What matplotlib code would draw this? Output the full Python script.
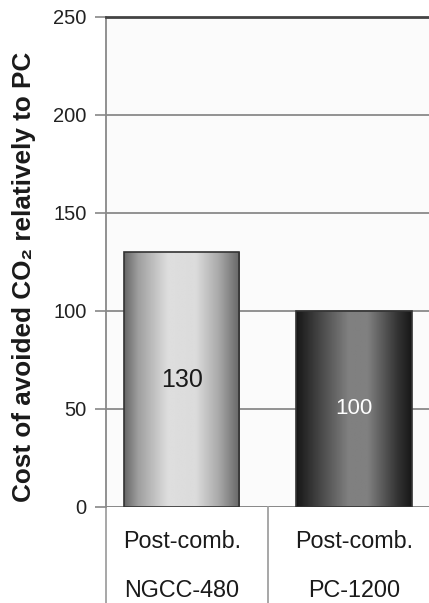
import numpy as np
import matplotlib
matplotlib.use("Agg")
import matplotlib.pyplot as plt

# Data
plants = ["NGCC-480", "PC-1200"]
capture = ["Post-comb.", "Post-comb."]
avoided_cost = [130, 100]
y_ticks = [0, 50, 100, 150, 200, 250]

FONT = ["Liberation Sans", "DejaVu Sans"]
plt.rcParams["font.family"] = FONT

fig = plt.figure(figsize=(4.29, 6.03), dpi=100)
fig.patch.set_facecolor("white")
ax = fig.add_axes([106 / 429, 1 - 507 / 603, 1 - 106 / 429, (507 - 17) / 603])
ax.set_facecolor("#fbfbfb")

x = np.arange(len(plants))
bars = ax.bar(x, avoided_cost, width=0.67, color="none",
              edgecolor="#333333", linewidth=1.2, zorder=3)

# Horizontal shading inside each bar (cylinder look)
profiles = [
    ([0, 0.12, 0.38, 0.62, 0.82, 1.0], [0.40, 0.62, 0.87, 0.86, 0.66, 0.40]),
    ([0, 0.10, 0.45, 0.62, 0.88, 1.0], [0.09, 0.18, 0.50, 0.50, 0.20, 0.09]),
]
for bar, (px, pv) in zip(bars, profiles):
    t = np.linspace(0, 1, 256)
    grad = np.interp(t, px, pv)[None, :]
    x0, w, h = bar.get_x(), bar.get_width(), bar.get_height()
    im = ax.imshow(grad, cmap="gray", vmin=0, vmax=1, aspect="auto",
                   extent=[x0, x0 + w, 0, h], zorder=2, interpolation="bilinear")
    im.set_clip_path(bar)

# Values written inside bars
label_colors = ["#1a1a1a", "white"]
label_sizes = [18, 16]
for xi, v, c, s in zip(x, avoided_cost, label_colors, label_sizes):
    ax.text(xi, v / 2, str(v), ha="center", va="center", color=c,
            fontsize=s, zorder=4)

ax.set_xlim(-0.44, 1.436)
ax.set_ylim(0, 250)
ax.set_yticks(y_ticks)
ax.set_yticklabels([str(t) for t in y_ticks], fontsize=14.5, color="#222222")
ax.tick_params(axis="y", length=8, width=1.2, color="#888888", pad=6)
ax.set_xticks([])

ax.yaxis.grid(True, color="#8a8a8a", linewidth=1.3, zorder=1)
ax.set_axisbelow(True)
for side in ["right", "bottom"]:
    ax.spines[side].set_visible(False)
ax.spines["top"].set_color("#444444")
ax.spines["top"].set_linewidth(2)
ax.spines["left"].set_color("#888888")
ax.spines["left"].set_linewidth(1.3)
ax.axhline(0, color="#8a8a8a", linewidth=1.3, zorder=1)

# Category table beneath the axis
table_lines_x = [-0.44, 0.5]
for xl in table_lines_x:
    ax.plot([xl, xl], [0, -50], color="#a0a0a0", linewidth=1.3,
            clip_on=False, zorder=1)
for xi, cap, plant in zip(x, capture, plants):
    ax.text(xi, -17.5, cap, ha="center", va="center", fontsize=16.8,
            color="#1a1a1a", clip_on=False)
    ax.text(xi, -42.5, plant, ha="center", va="center", fontsize=16.8,
            color="#1a1a1a", clip_on=False)

fig.text(24 / 429, 1 - 277 / 603, "Cost of avoided CO\u2082 relatively to PC",
         rotation=90, ha="center", va="center", fontsize=18.8,
         fontweight="bold", color="#1a1a1a", family=FONT)

fig.savefig("out.png", dpi=100)
